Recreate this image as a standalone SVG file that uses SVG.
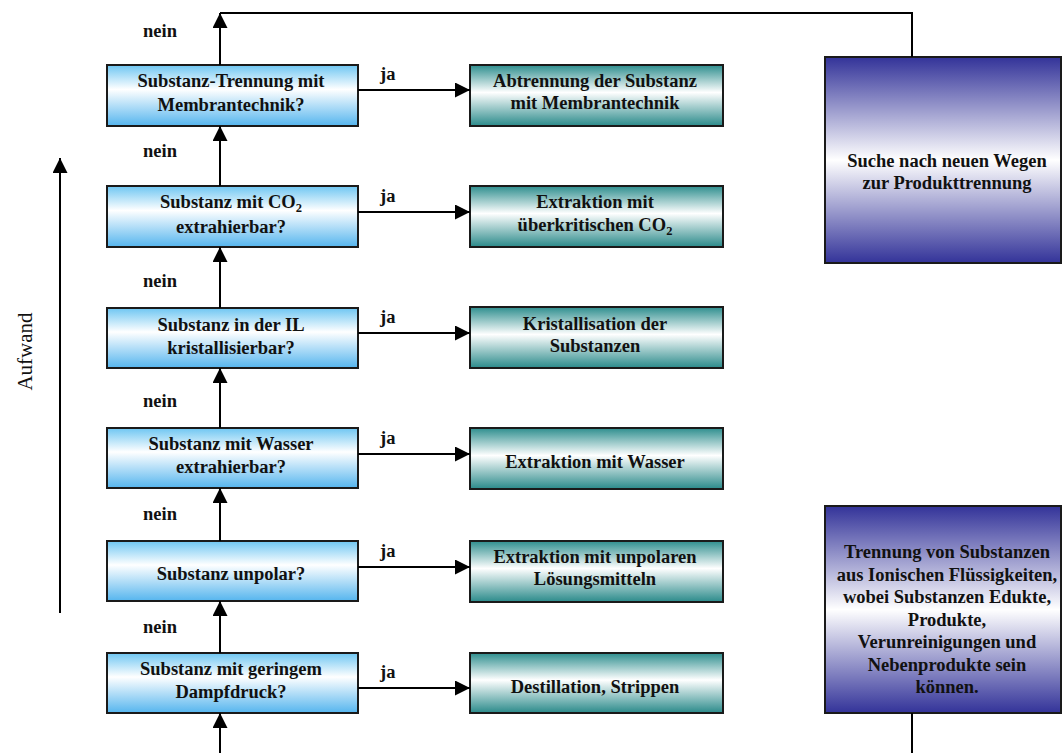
<svg xmlns="http://www.w3.org/2000/svg" width="1063" height="753" viewBox="0 0 1063 753">
<defs>
  <linearGradient id="gBlue" x1="0" y1="0" x2="0" y2="1">
    <stop offset="0" stop-color="#6ec6f2"/>
    <stop offset="0.4" stop-color="#ffffff"/>
    <stop offset="1" stop-color="#55b5ee"/>
  </linearGradient>
  <linearGradient id="gTeal" x1="0" y1="0" x2="0" y2="1">
    <stop offset="0" stop-color="#2e8e8e"/>
    <stop offset="0.45" stop-color="#ffffff"/>
    <stop offset="1" stop-color="#2a8a8a"/>
  </linearGradient>
  <linearGradient id="gPurple" x1="0" y1="0" x2="0" y2="1">
    <stop offset="0" stop-color="#333399"/>
    <stop offset="0.5" stop-color="#ffffff"/>
    <stop offset="1" stop-color="#333399"/>
  </linearGradient>
  <marker id="ah" markerWidth="15" markerHeight="15" refX="15" refY="7.5" orient="auto" markerUnits="userSpaceOnUse">
    <path d="M0,0 L15,7.5 L0,15 Z" fill="#000"/>
  </marker>
</defs>
<style>
  text { font-family: "Liberation Serif", "Times New Roman", serif; font-weight: bold; font-size: 18.5px; fill: #111; }
  .q rect { fill: url(#gBlue); stroke: #1a1a1a; stroke-width: 2; }
  .a rect { fill: url(#gTeal); stroke: #1a1a1a; stroke-width: 2; }
  .p rect { fill: url(#gPurple); stroke: #1a1a1a; stroke-width: 2; }
  .m { text-anchor: middle; }
  .conn line, .conn polyline { stroke: #000; stroke-width: 2; fill: none; }
  .lbl { font-size: 18.5px; }
  .axis { font-weight: normal; font-size: 21px; }
</style>

<!-- decision nodes -->
<g id="q1" class="q"><rect x="107" y="65" width="251" height="61"/>
  <text class="m" x="231" y="87">Substanz-Trennung mit</text>
  <text class="m" x="231" y="111">Membrantechnik?</text></g>
<g id="q2" class="q"><rect x="107" y="186" width="251" height="61"/>
  <text class="m" x="231" y="208">Substanz mit CO<tspan font-size="12.5" dy="4">2</tspan></text>
  <text class="m" x="231" y="233">extrahierbar?</text></g>
<g id="q3" class="q"><rect x="107" y="308" width="251" height="60"/>
  <text class="m" x="231" y="331">Substanz in der IL</text>
  <text class="m" x="231" y="354">kristallisierbar?</text></g>
<g id="q4" class="q"><rect x="107" y="428" width="251" height="60"/>
  <text class="m" x="231" y="450">Substanz mit Wasser</text>
  <text class="m" x="231" y="473">extrahierbar?</text></g>
<g id="q5" class="q"><rect x="107" y="541" width="251" height="60"/>
  <text class="m" x="231" y="580">Substanz unpolar?</text></g>
<g id="q6" class="q"><rect x="107" y="653" width="251" height="60"/>
  <text class="m" x="231" y="675">Substanz mit geringem</text>
  <text class="m" x="231" y="698">Dampfdruck?</text></g>

<!-- action nodes -->
<g id="a1" class="a"><rect x="470" y="65" width="253" height="61"/>
  <text class="m" x="595" y="87">Abtrennung der Substanz</text>
  <text class="m" x="595" y="109">mit Membrantechnik</text></g>
<g id="a2" class="a"><rect x="470" y="186" width="253" height="61"/>
  <text class="m" x="595" y="208">Extraktion mit</text>
  <text class="m" x="595" y="231">überkritischen CO<tspan font-size="12.5" dy="4">2</tspan></text></g>
<g id="a3" class="a"><rect x="470" y="307" width="253" height="61"/>
  <text class="m" x="595" y="330">Kristallisation der</text>
  <text class="m" x="595" y="352">Substanzen</text></g>
<g id="a4" class="a"><rect x="470" y="428" width="253" height="61"/>
  <text class="m" x="595" y="468">Extraktion mit Wasser</text></g>
<g id="a5" class="a"><rect x="470" y="541" width="253" height="61"/>
  <text class="m" x="595" y="563">Extraktion mit unpolaren</text>
  <text class="m" x="595" y="585">Lösungsmitteln</text></g>
<g id="a6" class="a"><rect x="470" y="653" width="253" height="60"/>
  <text class="m" x="595" y="693">Destillation, Strippen</text></g>

<!-- purple nodes -->
<g id="p1" class="p"><rect x="825" y="57" width="236" height="206"/>
  <text class="m" x="947" y="167">Suche nach neuen Wegen</text>
  <text class="m" x="947" y="189">zur Produkttrennung</text></g>
<g id="p2" class="p"><rect x="825" y="506" width="236" height="207"/>
  <text class="m" x="947" y="558">Trennung von Substanzen</text>
  <text class="m" x="947" y="580.5">aus Ionischen Flüssigkeiten,</text>
  <text class="m" x="947" y="603">wobei Substanzen Edukte,</text>
  <text class="m" x="947" y="625.5">Produkte,</text>
  <text class="m" x="947" y="648">Verunreinigungen und</text>
  <text class="m" x="947" y="670.5">Nebenprodukte sein</text>
  <text class="m" x="947" y="693">können.</text></g>

<!-- connectors -->
<g id="connectors" class="conn">
  <line x1="220" y1="65" x2="220" y2="13" marker-end="url(#ah)"/>
  <polyline points="220,13 912,13 912,57"/>
  <line x1="220" y1="186" x2="220" y2="126" marker-end="url(#ah)"/>
  <line x1="220" y1="308" x2="220" y2="247" marker-end="url(#ah)"/>
  <line x1="220" y1="428" x2="220" y2="368" marker-end="url(#ah)"/>
  <line x1="220" y1="541" x2="220" y2="488" marker-end="url(#ah)"/>
  <line x1="220" y1="653" x2="220" y2="601" marker-end="url(#ah)"/>
  <line x1="220" y1="753" x2="220" y2="713" marker-end="url(#ah)"/>
  <line x1="912" y1="713" x2="912" y2="753"/>
  <line x1="358" y1="90" x2="470" y2="90" marker-end="url(#ah)"/>
  <line x1="358" y1="212" x2="470" y2="212" marker-end="url(#ah)"/>
  <line x1="358" y1="333" x2="470" y2="333" marker-end="url(#ah)"/>
  <line x1="358" y1="454" x2="470" y2="454" marker-end="url(#ah)"/>
  <line x1="358" y1="567" x2="470" y2="567" marker-end="url(#ah)"/>
  <line x1="358" y1="688" x2="470" y2="688" marker-end="url(#ah)"/>
  <line x1="60" y1="613" x2="60" y2="158" marker-end="url(#ah)"/>
</g>

<!-- labels -->
<g id="labels">
  <text class="lbl" x="143" y="37">nein</text>
  <text class="lbl" x="143" y="157">nein</text>
  <text class="lbl" x="143" y="287">nein</text>
  <text class="lbl" x="143" y="407">nein</text>
  <text class="lbl" x="143" y="520">nein</text>
  <text class="lbl" x="143" y="633">nein</text>
  <text class="lbl" x="380" y="80">ja</text>
  <text class="lbl" x="380" y="202">ja</text>
  <text class="lbl" x="380" y="323">ja</text>
  <text class="lbl" x="380" y="444">ja</text>
  <text class="lbl" x="380" y="557">ja</text>
  <text class="lbl" x="380" y="678">ja</text>
  <text class="axis m" transform="translate(32,351.5) rotate(-90)">Aufwand</text>
</g>
</svg>
